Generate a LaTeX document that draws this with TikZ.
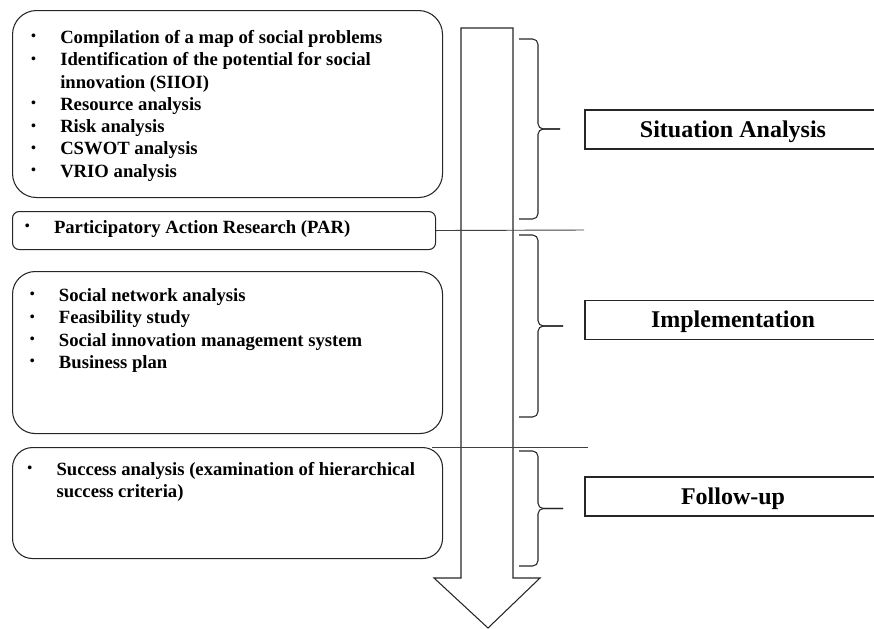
\documentclass[tikz,border=0pt]{standalone}
\usepackage{fontspec}
\setmainfont{Liberation Serif}
\usetikzlibrary{calc}

% bullet column and hanging indent of the lists
\newcommand{\bul}{\makebox[22.5pt][l]{\hspace{0.7pt}\raisebox{0.3ex}{\scalebox{0.75}{\textbullet}}}}
\newcommand{\gap}{\hspace*{22.5pt}}
% list text of a box: width, height, left pad, first baseline, lines
\newcommand{\boxlist}[5]{\parbox[c][#2][t]{#1}{\raggedright\leftskip=#3\relax
  \rule{0pt}{#4}#5\par}}

\begin{document}
\begin{tikzpicture}[x=0.75pt, y=-0.75pt,
    listbox/.style={draw=black!85, line width=0.8pt, inner sep=0pt,
              anchor=north west,
              font=\fontsize{14pt}{16.7pt}\selectfont\bfseries},
    phasebox/.style={draw=black!85, line width=0.8pt, inner sep=0pt,
              minimum width=222pt, minimum height=29.25pt,
              text height=11.9pt, text depth=0pt,
              font=\fontsize{18pt}{20pt}\selectfont\bfseries},
    flow/.style={draw=black!85, line width=0.8pt},
    link/.style={draw=black!75, line width=0.7pt},
    phasebrace/.style={draw=black!85, line width=0.8pt, rounded corners=4pt}
]
    \useasboundingbox (0,0) rectangle (874,628);

    % the big arrow
    \draw[flow] (461,28) -- (513,28) -- (513,578) -- (540,578)
        -- (488,628) -- (434,578) -- (461,578) -- cycle;

    % method boxes
    \node[listbox, rounded corners=18pt] (sitbox) at (12,10)
        {\boxlist{322.5pt}{140.25pt}{13.3pt}{24.75pt}{%
         \bul Compilation of a map of social problems\\
         \bul Identification of the potential for social\\
         \gap innovation (SIIOI)\\
         \bul Resource analysis\\
         \bul Risk analysis\\
         \bul CSWOT analysis\\
         \bul VRIO analysis}};
    \node[listbox, rounded corners=5pt] (parbox) at (12,211)
        {\boxlist{317.25pt}{28.5pt}{8.6pt}{16.5pt}{%
         \bul Participatory Action Research (PAR)}};
    \node[listbox, rounded corners=17pt] (impbox) at (12,271)
        {\boxlist{322.5pt}{121.5pt}{12.3pt}{22.5pt}{%
         \bul Social network analysis\\
         \bul Feasibility study\\
         \bul Social innovation management system\\
         \bul Business plan}};
    \node[listbox, rounded corners=15pt] (fubox) at (12,447)
        {\boxlist{322.5pt}{83.25pt}{10.5pt}{21pt}{%
         \bul Success analysis (examination of hierarchical\\
         \gap success criteria)}};

    % phase labels
    \node[phasebox] (sit) at (733,129.5) {Situation Analysis};
    \node[phasebox] (imp) at (733,320)   {Implementation};
    \node[phasebox] (fu)  at (733,496.5) {Follow-up};

    % separating lines
    \coordinate (parend) at (584,230);
    \coordinate (fuend)  at (588,447);
    \draw[link] (parbox.east) -- (parend);
    \draw[link] ([xshift=-8pt]fubox.north east) -- (fuend);

    % braces
    \foreach \top/\bot/\tip in {39/219/560, 235/417/563, 451/566/563} {
        \draw[phasebrace] (519,\top) -- (538,\top) -- (538,{(\top+\bot)/2})
            -- (\tip,{(\top+\bot)/2});
        \draw[phasebrace] (519,\bot) -- (538,\bot) -- (538,{(\top+\bot)/2})
            -- (\tip,{(\top+\bot)/2});
    }
\end{tikzpicture}
\end{document}
